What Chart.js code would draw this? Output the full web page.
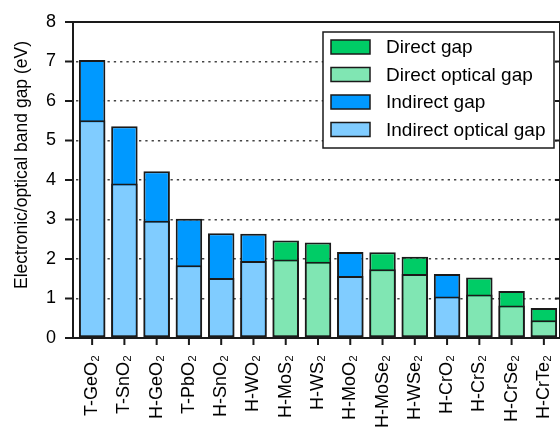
<!DOCTYPE html>
<html>
<head>
<meta charset="utf-8">
<script src="https://cdn.jsdelivr.net/npm/chart.js@4"></script>
<style>
  html, body { margin: 0; padding: 0; background: #fff; }
  canvas { display: block; }
</style>
</head>
<body>
<canvas id="c" width="560" height="429"></canvas>
<script>
const categories = ['T-GeO₂','T-SnO₂','H-GeO₂','T-PbO₂','H-SnO₂','H-WO₂','H-MoS₂','H-WS₂','H-MoO₂','H-MoSe₂','H-WSe₂','H-CrO₂','H-CrS₂','H-CrSe₂','H-CrTe₂'];
const electronicGap = [7.04, 5.36, 4.22, 3.02, 2.65, 2.64, 2.47, 2.42, 2.18, 2.17, 2.06, 1.62, 1.53, 1.19, 0.76];
const opticalGap    = [5.51, 3.91, 2.97, 1.84, 1.52, 1.95, 1.99, 1.93, 1.57, 1.74, 1.62, 1.05, 1.10, 0.82, 0.45];
const gapType       = ['I','I','I','I','I','I','D','D','I','D','D','I','D','D','D'];
const seriesLabels  = ['Direct gap', 'Direct optical gap', 'Indirect gap', 'Indirect optical gap'];
const yTicks = [0, 1, 2, 3, 4, 5, 6, 7, 8];
const yTitle = 'Electronic/optical band gap (eV)';

const colors = ['#00cc66', '#80e6b3', '#0099ff', '#80ccff'];
const pick = (arr, t) => arr.map((v, i) => gapType[i] === t ? v : null);

const FONT = "'Liberation Sans', Arial, Helvetica, sans-serif";
const EDGE = '#1a1a1a';

const framePlugin = {
  id: 'frame',
  afterDatasetsDraw(chart) {
    const { ctx, chartArea: a, scales: { x, y } } = chart;
    const axisX = a.left - 3;
    ctx.save();
    ctx.strokeStyle = EDGE;
    ctx.lineWidth = 2;
    ctx.beginPath();
    ctx.moveTo(axisX, a.top); ctx.lineTo(axisX, a.bottom);
    ctx.moveTo(axisX - 8, a.top); ctx.lineTo(a.right, a.top);
    ctx.moveTo(axisX - 8, a.bottom); ctx.lineTo(a.right, a.bottom);
    ctx.moveTo(a.right, a.top); ctx.lineTo(a.right, a.bottom);
    y.ticks.forEach(t => {
      const py = y.getPixelForValue(t.value);
      ctx.moveTo(axisX - 8, py); ctx.lineTo(axisX, py);
      ctx.moveTo(a.right - 5, py); ctx.lineTo(a.right, py);
    });
    x.ticks.forEach((t, i) => {
      const px = x.getPixelForTick(i);
      ctx.moveTo(px, a.bottom); ctx.lineTo(px, a.bottom + 7);
    });
    ctx.stroke();

    // y-axis title
    ctx.save();
    ctx.translate(22, 165);
    ctx.rotate(-Math.PI / 2);
    ctx.font = '17.5px ' + FONT;
    ctx.fillStyle = '#000';
    ctx.textAlign = 'center';
    ctx.textBaseline = 'middle';
    ctx.fillText(yTitle, 0, 0);
    ctx.restore();

    // legend box inside plot area (top right)
    const bx = 323, by = 32, bw = 231, bh = 116;
    ctx.fillStyle = '#fff';
    ctx.fillRect(bx, by, bw, bh);
    ctx.lineWidth = 1.5;
    ctx.strokeRect(bx, by, bw, bh);
    ctx.font = '19px ' + FONT;
    ctx.textBaseline = 'middle';
    ctx.textAlign = 'left';
    chart.data.datasets.forEach((ds, i) => {
      const cy = by + 15 + i * 27.5;
      ctx.fillStyle = ds.backgroundColor;
      ctx.fillRect(bx + 8, cy - 7, 39, 14);
      ctx.lineWidth = 1.5;
      ctx.strokeStyle = EDGE;
      ctx.strokeRect(bx + 8, cy - 7, 39, 14);
      ctx.fillStyle = '#000';
      ctx.fillText(ds.label, bx + 63, cy + 1);
    });
    ctx.restore();
  }
};

new Chart(document.getElementById('c'), {
  type: 'bar',
  data: {
    labels: categories,
    datasets: [
      { label: seriesLabels[0], data: pick(electronicGap, 'D'), backgroundColor: colors[0], order: 2 },
      { label: seriesLabels[1], data: pick(opticalGap, 'D'),    backgroundColor: colors[1], order: 1 },
      { label: seriesLabels[2], data: pick(electronicGap, 'I'), backgroundColor: colors[2], order: 2 },
      { label: seriesLabels[3], data: pick(opticalGap, 'I'),    backgroundColor: colors[3], order: 1 }
    ].map(d => Object.assign(d, {
      borderColor: EDGE, borderWidth: 2, borderSkipped: false,
      grouped: false, categoryPercentage: 1, barPercentage: 0.82
    }))
  },
  options: {
    responsive: false,
    animation: false,
    devicePixelRatio: 1,
    layout: { padding: { top: 22, right: 0, left: 0, bottom: 0 } },
    plugins: { legend: { display: false }, tooltip: { enabled: false } },
    scales: {
      x: {
        grid: { display: false, drawTicks: false },
        border: { display: false },
        ticks: {
          autoSkip: false, minRotation: 90, maxRotation: 90, padding: 17,
          color: '#000', font: { family: FONT, size: 18 }
        },
        afterFit: s => { s.height = 91; s.paddingLeft = 0; s.paddingRight = 0; }
      },
      y: {
        min: 0, max: 8,
        afterBuildTicks: s => { s.ticks = yTicks.map(v => ({ value: v })); },
        grid: {
          drawTicks: false, lineWidth: 1.6,
          color: c => (c.tick && (c.tick.value === 0 || c.tick.value === 8)) ? 'rgba(0,0,0,0)' : '#444'
        },
        border: { display: false, dash: [2.3, 4] },
        ticks: { padding: 20, color: '#000', font: { family: FONT, size: 18 } },
        title: { display: false },
        afterFit: s => { s.width = 76; s.paddingTop = 0; s.paddingBottom = 0; }
      }
    }
  },
  plugins: [framePlugin]
});
</script>
</body>
</html>
